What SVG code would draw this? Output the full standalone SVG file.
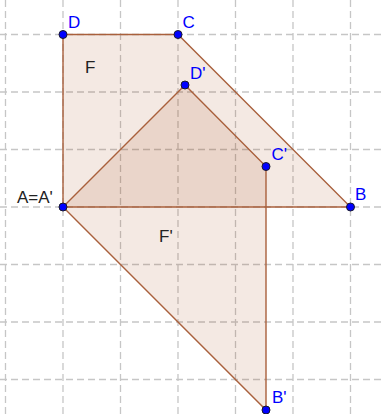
<svg xmlns="http://www.w3.org/2000/svg" width="382" height="414" viewBox="0 0 382 414">
<style>
.grid line{stroke:#c6c6c6;stroke-width:1.3;stroke-dasharray:7,4}
.poly{fill:#993300;fill-opacity:0.11;stroke:none}
.edge{stroke:#a9603c;stroke-width:1.4;fill:none}
.pt{fill:#0000ff;stroke:#1a1a2a;stroke-width:1}
.lb{font-family:"Liberation Sans",Arial,sans-serif;font-size:17px;fill:#0000ff}
.lk{font-family:"Liberation Sans",Arial,sans-serif;font-size:17px;fill:#222222}
</style>
<rect width="382" height="414" fill="#ffffff"/>
<g class="grid">
<line x1="5.5" y1="0" x2="5.5" y2="414"/>
<line x1="63" y1="0" x2="63" y2="414"/>
<line x1="120.5" y1="0" x2="120.5" y2="414"/>
<line x1="178" y1="0" x2="178" y2="414"/>
<line x1="235.5" y1="0" x2="235.5" y2="414"/>
<line x1="293" y1="0" x2="293" y2="414"/>
<line x1="350.5" y1="0" x2="350.5" y2="414"/>
<line x1="0" y1="34.5" x2="382" y2="34.5"/>
<line x1="0" y1="92" x2="382" y2="92"/>
<line x1="0" y1="149.5" x2="382" y2="149.5"/>
<line x1="0" y1="207" x2="382" y2="207"/>
<line x1="0" y1="264.5" x2="382" y2="264.5"/>
<line x1="0" y1="322" x2="382" y2="322"/>
<line x1="0" y1="379.5" x2="382" y2="379.5"/>
</g>
<g id="F">
<polygon class="poly" points="63,207 350.5,207 178,34.5 63,34.5"/>
<text class="lk" x="85" y="73">F</text>
</g>
<g id="F_prime">
<polygon class="poly" points="63,207 266,410 266,166.5 185,85"/>
<text class="lk" x="159" y="242">F'</text>
</g>
<g id="connectors">
<polyline class="edge" points="63,207 350.5,207 178,34.5 63,34.5 63,207"/>
<polyline class="edge" points="63,207 266,410 266,166.5 185,85 63,207"/>
</g>
<g id="A"><circle class="pt" cx="63" cy="207" r="4"/><text class="lk" x="17" y="203">A=A'</text></g>
<g id="B"><circle class="pt" cx="350.5" cy="207" r="4"/><text class="lb" x="355" y="200">B</text></g>
<g id="C"><circle class="pt" cx="178" cy="34.5" r="4"/><text class="lb" x="182.5" y="27.5">C</text></g>
<g id="D"><circle class="pt" cx="63" cy="34.5" r="4"/><text class="lb" x="68" y="27.5">D</text></g>
<g id="B_prime"><circle class="pt" cx="266" cy="410" r="4"/><text class="lb" x="272" y="403">B'</text></g>
<g id="C_prime"><circle class="pt" cx="266" cy="166.5" r="4"/><text class="lb" x="271.5" y="160">C'</text></g>
<g id="D_prime"><circle class="pt" cx="185" cy="85" r="4"/><text class="lb" x="190" y="78.5">D'</text></g>
</svg>
